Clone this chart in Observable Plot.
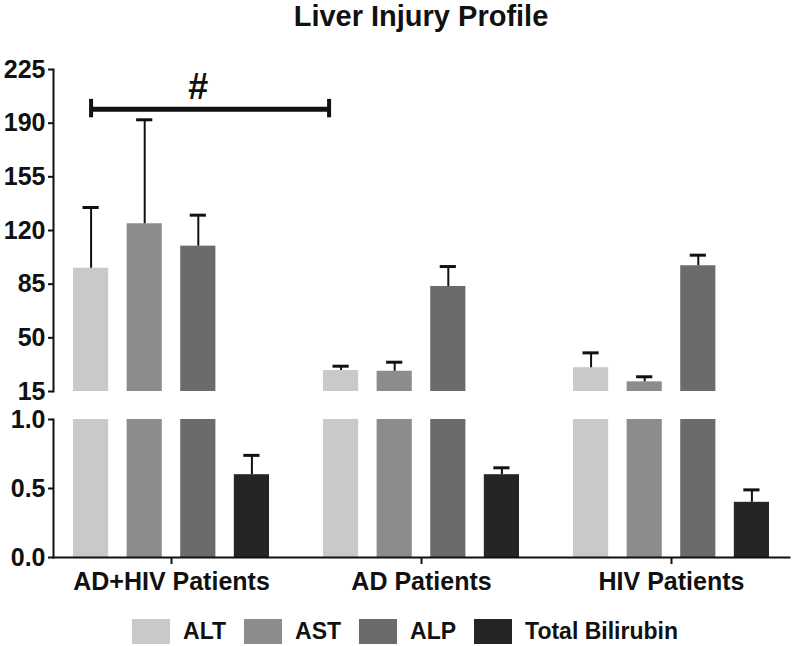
<!DOCTYPE html>
<html>
<head>
<meta charset="utf-8">
<script src="https://cdn.jsdelivr.net/npm/d3@7"></script>
<script src="https://cdn.jsdelivr.net/npm/@observablehq/plot@0.6"></script>
<style>
  body { margin: 0; background: #fff; }
  #chart { width: 792px; height: 646px; font-family: "Liberation Sans", Arial, Helvetica, sans-serif; color: #111; }
  .title { height: 45px; font-size: 29px; font-weight: bold; line-height: 29px; padding-top: 2px; text-align: center; padding-left: 50px; box-sizing: border-box; }
  .legend { display: flex; justify-content: center; align-items: center; padding-top: 16px; padding-left: 18px; font-size: 23px; font-weight: bold; }
  .legend .item { display: flex; align-items: center; margin: 0 9px; }
  .legend .sw { width: 38px; height: 25px; margin-right: 13px; }
  svg { display: block; }
</style>
</head>
<body>
<div id="chart"></div>
<script>
// ---- data ----
const groups = ["AD+HIV Patients", "AD Patients", "HIV Patients"];
const series = ["ALT", "AST", "ALP", "Total Bilirubin"];
const colors = ["#c9c9c9", "#8c8c8c", "#6b6b6b", "#252525"];
const ALT = [95.4, 28.7, 30.5];
const ALT_err = [39.6, 2.8, 9.7];
const AST = [124.4, 28.2, 21.3];
const AST_err = [67.8, 5.9, 3.3];
const ALP = [109.8, 83.5, 97.0];
const ALP_err = [20.2, 13.0, 6.9];
const TBIL = [0.6, 0.6, 0.4];
const TBIL_err = [0.14, 0.05, 0.09];
const topTicks = [15, 50, 85, 120, 155, 190, 225];
const bottomTicks = [0.0, 0.5, 1.0];
const bracket = [{from: "AD+HIV Patients", to: "AD Patients", y: 199, capLo: 193.5, capHi: 205.5, labelY: 213, label: "#"}];

const means = [ALT, AST, ALP, TBIL];
const errs = [ALT_err, AST_err, ALP_err, TBIL_err];
const rows = groups.flatMap((g, gi) => series.map((s, si) => ({
  group: g, series: s, value: means[si][gi], upper: means[si][gi] + errs[si][gi]
})));

// ---- layout ----
const W = 792, ML = 53, MR = 3;
const padInner = 0.2144, padOuter = 0.076;
const step = (W - ML - MR) / (groups.length - padInner + 2 * padOuter);
const bw = step * (1 - padInner);
const barW = 36;
const barStep = (bw - barW) / (series.length - 1);
const capW = 17;
const font = '"Liberation Sans", Arial, Helvetica, sans-serif';
const ink = "#111";

const xScale = {domain: groups, paddingInner: padInner, paddingOuter: padOuter, align: 0.5};

function barMarks() {
  return series.flatMap((s, si) => {
    const d = rows.filter(r => r.series === s);
    const left = si * barStep;
    const center = left + barW / 2;
    return [
      Plot.barY(d, {x: "group", y1: 0, y2: "value", fill: colors[si], insetLeft: left, insetRight: bw - left - barW, clip: true}),
      Plot.ruleX(d, {x: "group", y1: "value", y2: "upper", dx: center - bw / 2, stroke: ink, strokeWidth: 2, clip: true}),
      Plot.tickY(d, {x: "group", y: "upper", insetLeft: center - capW / 2, insetRight: bw - center - capW / 2, stroke: ink, strokeWidth: 3, clip: true})
    ];
  });
}

const axisStyle = {fontSize: 25, fontWeight: "bold", fontFamily: font, label: null, stroke: ink, strokeWidth: 2};

const topPanel = Plot.plot({
  width: W, height: 360,
  marginLeft: ML, marginRight: MR, marginTop: 24, marginBottom: 14,
  style: {fontFamily: font, background: "white", overflow: "visible", color: ink},
  x: {...xScale, axis: null},
  y: {domain: [15, 225]},
  marks: [
    ...barMarks(),
    Plot.axisY({ticks: topTicks, tickSize: 5, tickPadding: 3, ...axisStyle}),
    Plot.frame({anchor: "left", stroke: ink, strokeWidth: 2}),
    Plot.ruleY(bracket, {x1: "from", x2: "to", y: "y", stroke: ink, strokeWidth: 5, insetLeft: barW / 2, insetRight: bw - 6}),
    Plot.ruleX(bracket, {x: "from", y1: "capLo", y2: "capHi", dx: barW / 2 - bw / 2, stroke: ink, strokeWidth: 4}),
    Plot.ruleX(bracket, {x: "to", y1: "capLo", y2: "capHi", dx: 6 - bw / 2, stroke: ink, strokeWidth: 4}),
    Plot.text(bracket, {x: "from", y: "labelY", text: "label", dx: 2 * barStep + barW / 2 - bw / 2, fontSize: 36, fontWeight: "bold", fill: ink})
  ]
});

const bottomPanel = Plot.plot({
  width: W, height: 197,
  marginLeft: ML, marginRight: MR, marginTop: 14, marginBottom: 45,
  style: {fontFamily: font, background: "white", overflow: "visible", color: ink},
  x: {...xScale},
  y: {domain: [0, 1]},
  marks: [
    ...barMarks(),
    Plot.axisY({ticks: bottomTicks, tickFormat: d3.format(".1f"), tickSize: 5, tickPadding: 3, ...axisStyle}),
    Plot.axisX({tickSize: 7, tickPadding: 8, ...axisStyle}),
    Plot.frame({anchor: "left", stroke: ink, strokeWidth: 2}),
    Plot.frame({anchor: "bottom", stroke: ink, strokeWidth: 2})
  ]
});

const root = d3.select("#chart");
root.append("div").attr("class", "title").text("Liver Injury Profile");
root.node().appendChild(topPanel);
root.node().appendChild(bottomPanel);
const legend = root.append("div").attr("class", "legend");
series.forEach((s, i) => {
  const it = legend.append("div").attr("class", "item");
  it.append("div").attr("class", "sw").style("background", colors[i]);
  it.append("span").text(s);
});
</script>
</body>
</html>
